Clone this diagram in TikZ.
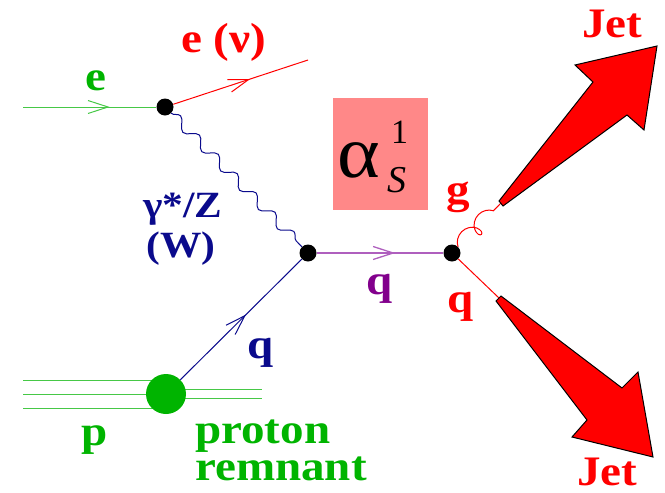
\documentclass[tikz,border=0pt]{standalone}
\usepackage{fontspec}
\setmainfont{Liberation Serif}
\usetikzlibrary{decorations.pathmorphing,decorations.markings,arrows.meta}
\definecolor{hgreen}{RGB}{0,180,0}
\definecolor{lgreen}{RGB}{70,200,70}
\definecolor{hnavy}{RGB}{10,10,140}
\definecolor{hpurple}{RGB}{130,0,140}
\definecolor{lpurple}{RGB}{175,95,190}
\definecolor{hred}{RGB}{255,0,0}
\definecolor{hpink}{RGB}{255,136,136}
\newcommand{\wide}[1]{\scalebox{1.12}[1]{#1}}
\begin{document}
\begin{tikzpicture}[x=1pt,y=-1pt,
  dot/.style={circle,fill=black,inner sep=0pt,minimum size=17pt},
  lbl/.style={anchor=base west,inner sep=0pt,font=\fontsize{42}{37}\selectfont\bfseries},
  slbl/.style={anchor=base west,inner sep=0pt,font=\fontsize{37}{37}\selectfont\bfseries},
  midarrow/.style={postaction={decorate},decoration={markings,mark=at position #1 with {\arrow{Straight Barb[length=20pt,width=13pt]}}}},
  fline/.style={line width=1pt},
  jet/.style={fill=hred,draw=black,line width=1pt,line join=miter}]
\useasboundingbox (0,0) rectangle (665,493);

% vertices
\node[dot] (v1) at (165,107) {};
\node[dot] (v2) at (308,253) {};
\node[dot] (v3) at (452,253) {};

% free ends
\coordinate (ein) at (23,107);
\coordinate (eout) at (308,60);
\coordinate (gend) at (501,203);
\coordinate (qend) at (499,298);
\coordinate (bc) at (166,394);
\coordinate (pa) at (23,380);
\coordinate (pb) at (23,394);
\coordinate (pc) at (23,408);
\coordinate (ra) at (262,389);
\coordinate (rb) at (262,398);

% proton lines
\draw[lgreen,fline] (pa) -- (pa -| bc);
\draw[lgreen,fline] (pb) -- (bc);
\draw[lgreen,fline] (pc) -- (pc -| bc);
\draw[lgreen,fline] (ra -| bc) -- (ra);
\draw[lgreen,fline] (rb -| bc) -- (rb);
\node[circle,fill=hgreen,inner sep=0pt,minimum size=40pt] (blob) at (bc) {};

% electron lines
\draw[lgreen,fline,midarrow=0.65] (ein) -- (v1);
\draw[hred,fline,midarrow=0.57] (v1) -- (eout);
% boson
\draw[hnavy,fline,decorate,decoration={snake,segment length=27pt,amplitude=5pt}] (v1) -- (v2);
% incoming quark
\draw[hnavy,fline,midarrow=0.54] (blob) -- (v2);
% propagator quark
\draw[lpurple,line width=1.3pt,midarrow=0.62] (v2) -- (v3);
% outgoing
\draw[hred,fline,decorate,decoration={coil,aspect=0.9,segment length=24pt,amplitude=8pt}] (v3) -- (gend);
\draw[hred,fline] (v3) -- (qend);

% jets
\draw[jet] (499,201) -- (593,82) -- (575,65) -- (657,46) -- (644,130) -- (627,115) -- (503,206) -- cycle;
\draw[jet] (501,296) -- (622,388) -- (638,372) -- (653,457) -- (572,437) -- (587,420) -- (496,301) -- cycle;

% alpha box
\node[fill=hpink,minimum width=95pt,minimum height=112pt,inner sep=0pt] (abox) at (380.5,154) {};
\node[anchor=base west,inner sep=0pt,font=\fontsize{74}{74}\selectfont] (alpha) at (337,177) {\scalebox{1.1}[1]{α}};
\node[anchor=base west,inner sep=0pt,font=\fontsize{34}{34}\selectfont] (one) at (391,143) {1};
\node[anchor=base west,inner sep=0pt,font=\fontsize{38}{38}\selectfont\itshape] (ess) at (387,192) {S};

% labels
\node[lbl,text=hgreen] (le) at (85,90) {\wide{e}};
\node[lbl,text=hred] (lenu) at (181,52) {\wide{e (ν)}};
\node[slbl,text=hnavy] (lgz) at (143,217) {\wide{γ*/Z}};
\node[slbl,text=hnavy] (lw) at (146,257) {\wide{(W)}};
\node[lbl,text=hpurple] (lq1) at (366,294) {\wide{q}};
\node[lbl,text=hnavy] (lq2) at (247,358) {\wide{q}};
\node[lbl,text=hred] (lg) at (446,203) {\wide{g}};
\node[lbl,text=hred] (lq3) at (447,312) {\wide{q}};
\node[lbl,text=hred] (ljet1) at (582,37) {\wide{Jet}};
\node[lbl,text=hred] (ljet2) at (577,485) {\wide{Jet}};
\node[lbl,text=hgreen] (lp) at (81,445) {\wide{p}};
\node[lbl,text=hgreen,align=left] (lpr) at (195,480) {\wide{proton}\\\wide{remnant}};
\end{tikzpicture}
\end{document}
